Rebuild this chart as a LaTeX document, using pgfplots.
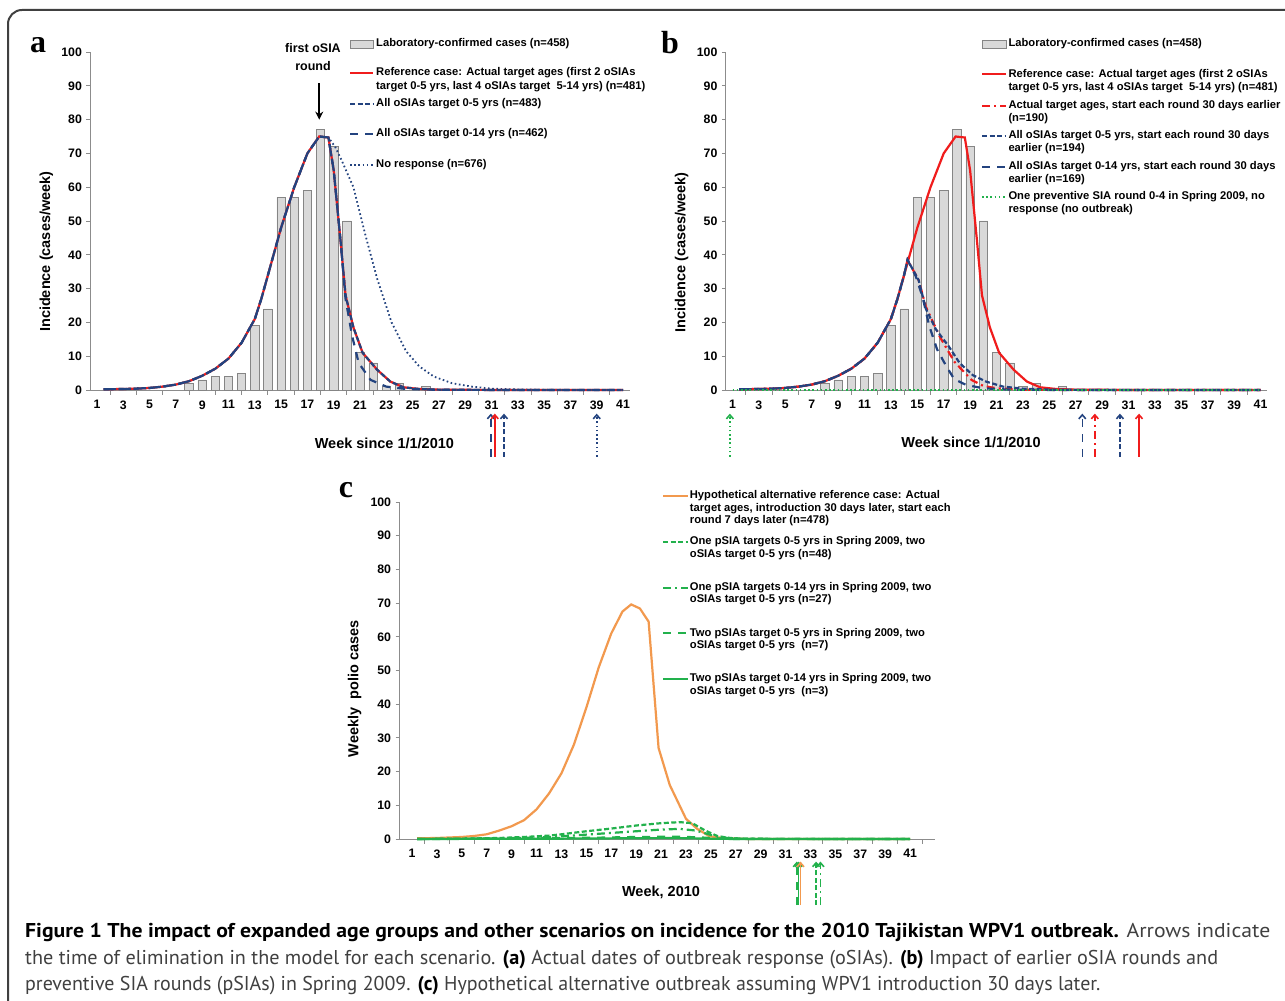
\documentclass[border=0pt]{standalone}
\usepackage{pgfplots}
\pgfplotsset{compat=1.18}
\usepackage{fontspec}
\setmainfont{Liberation Sans}
\newfontfamily\serifb{Liberation Serif}
\newfontfamily\capfont{PT Sans}
\usetikzlibrary{arrows.meta}
\definecolor{navy}{HTML}{23437F}
\definecolor{refred}{HTML}{F01C1C}
\definecolor{orng}{HTML}{F2994E}
\definecolor{grn}{HTML}{22B14C}
\definecolor{barfill}{HTML}{D9D9D9}
\definecolor{bardraw}{HTML}{858585}
\definecolor{axgray}{HTML}{8C8C8C}
\definecolor{capgray}{HTML}{404040}
\newcommand{\fs}[1]{\fontsize{#1}{#1}\selectfont}
\newcommand{\lgf}{\bfseries\fs{11.2}}

\tikzset{
  sref/.style={refred, line width=2.2pt},
  sshort/.style={navy, line width=2.2pt, dash pattern=on 5pt off 2.5pt},
  slong/.style={navy, line width=2.2pt, dash pattern=on 8pt off 7pt},
  sdot/.style={navy, line width=1.8pt, dash pattern=on 1.6pt off 2.6pt},
  sreddd/.style={refred, line width=2.2pt, dash pattern=on 8pt off 4pt on 2pt off 4pt},
  sgdot/.style={grn, line width=1.8pt, dash pattern=on 1.6pt off 2.6pt},
  sor/.style={orng, line width=2.2pt},
  sgshort/.style={grn, line width=2.2pt, dash pattern=on 5pt off 2.5pt},
  sgdd/.style={grn, line width=2.2pt, dash pattern=on 8pt off 4pt on 2pt off 4pt},
  sglong/.style={grn, line width=2.2pt, dash pattern=on 8pt off 7pt},
  sgsolid/.style={grn, line width=2.2pt},
  arr/.style={-{Straight Barb[length=4pt,width=7pt]}, line width=1.6pt},
}

\pgfplotsset{
  panel/.style={
    scale only axis, height=338pt,
    axis x line=bottom, axis y line=left,
    axis line style={-, draw=axgray, line width=0.9pt},
    ymin=0, ymax=100, ytick={0,10,...,100},
    xtick={1,3,...,41},
    minor xtick={2,4,...,40},
    major x tick style={draw=none},
    minor x tick style={draw=axgray, line width=0.9pt},
    y tick style={draw=axgray, line width=0.9pt},
    tick align=outside,
    major tick length=4pt, minor tick length=5pt,
    /pgf/number format/assume math mode=true,
    ticklabel style={font=\bfseries\fs{12.3}},
    xticklabel style={yshift=-3pt},
    yticklabel style={xshift=-1pt},
    clip=false,
  }
}

\pgfplotstableread{
w c
8 2
9 3
10 4
11 4
12 5
13 19
14 24
15 57
16 57
17 59
18 77
19 72
20 50
21 11
22 8
23 1
24 2
26 1
}\lab

\pgfplotstableread{
w v
1.5 0.2
3 0.3
4 0.4
5 0.6
6 1.0
7 1.6
8 2.6
9 4.2
10 6.3
11 9.3
12 14
13 21
13.5 27
14 34
15 48
16 60
17 70
17.9 75
18.6 74.7
19 65
19.5 45
19.9 28
20.5 18.5
21.2 11
22.3 6
23.3 2.5
24.3 0.8
25.5 0.3
27 0.1
30 0.03
35 0
41 0
}\refc

\pgfplotstableread{
w v
1.5 0.2
3 0.3
4 0.4
5 0.6
6 1.0
7 1.6
8 2.6
9 4.2
10 6.3
11 9.3
12 14
13 21
13.5 27
14 34
15 48
16 60
17 70
17.9 75
18.6 74.7
19 65
19.5 45
19.9 27
20.4 16
20.9 8
21.8 3
23 1
24.5 0.3
27 0.05
35 0
41 0
}\aoldfourteen

\pgfplotstableread{
w v
1.5 0.2
3 0.3
4 0.4
5 0.6
6 1.0
7 1.6
8 2.6
9 4.2
10 6.3
11 9.3
12 14
13 21
13.5 27
14 34
15 48
16 60
17 70
17.9 75
18.6 74.7
19.1 72
19.6 68
20.5 60
21.4 46
22.3 33
23.4 20
24.5 11.5
25.5 7
26.6 4
28 2
29.5 1
31 0.4
33 0.15
36 0.03
41 0
}\noresp

\pgfplotstableread{
w v
1.5 0.2
3 0.3
4 0.4
5 0.6
6 1.0
7 1.6
8 2.6
9 4.2
10 6.3
11 9.3
12 14
13 21
13.5 27
14 34
14.26 38.5
15.1 32.5
15.65 24
16.4 18
17.4 12.8
18.2 8
19.2 4.4
20.2 2.5
21.5 1
23 0.4
25 0.1
28 0
41 0
}\bshort

\pgfplotstableread{
w v
1.5 0.2
3 0.3
4 0.4
5 0.6
6 1.0
7 1.6
8 2.6
9 4.2
10 6.3
11 9.3
12 14
13 21
13.5 27
14 34
14.26 38.5
14.9 33.5
15.4 27.5
15.9 19
16.5 12
17.2 7
17.8 3.2
18.7 1.5
20 0.5
22 0.1
25 0
41 0
}\blong

\pgfplotstableread{
w v
1.5 0.2
3 0.3
4 0.4
5 0.6
6 1.0
7 1.6
8 2.6
9 4.2
10 6.3
11 9.3
12 14
13 21
13.5 27
14 34
14.26 38.5
15.1 32.5
15.65 24.6
16.7 15.8
17.8 8.4
19.1 3
20 1.2
21 0.5
23 0.1
26 0
41 0
}\breddd

\pgfplotstableread{
w v
1.4 0.2
3 0.3
5 0.6
6 0.9
7 1.4
8 2.5
9 3.8
10 5.6
11 8.8
12 13.5
13 19.5
14 28
15 39
16 51
17 61
17.9 67.5
18.6 69.6
19.3 68.4
20 64.5
20.8 27
21.7 16
23 6
23.9 3
24.9 0.8
26.2 0.2
28 0
41 0
}\orangec

\pgfplotstableread{
w v
1.4 0
5 0.1
8 0.3
10 0.6
12 1
13 1.4
15 2.3
17 3.1
19 4.0
21 4.7
22.5 5.0
23.5 4.7
24.5 2.6
25.5 0.9
26.5 0.3
28 0.05
41 0
}\gshort

\pgfplotstableread{
w v
1.4 0
8 0.2
11 0.4
13 0.8
15 1.3
17 1.8
19 2.3
21 2.8
22.5 3
23.8 2.5
25 1.2
26 0.4
27.5 0.05
41 0
}\gdd

\pgfplotstableread{
w v
1.4 0
10 0.1
13 0.3
16 0.4
19 0.6
22 0.7
24 0.5
25.5 0.2
27 0
41 0
}\glong

\pgfplotstableread{
w v
1.4 0
13 0.1
18 0.2
22 0.3
25 0.1
27 0
41 0
}\gsolid

\begin{document}
\begin{tikzpicture}[x=1pt,y=1pt]
\useasboundingbox (0,0) rectangle (1285,1001);
\fill[white] (0,0) rectangle (1285,1001);
\draw[line width=2pt, draw=black!75, rounded corners=14pt] (8,-40) -- (8,991) -- (1330,991);

% ---------------- panel a
\begin{axis}[panel, at={(90.4pt,611pt)}, anchor=south west, width=539.2pt, xmin=0.5, xmax=41.5]
\addplot[ybar, bar width=0.64, fill=barfill, draw=bardraw, line width=0.7pt] table[x=w,y=c] {\lab};
\addplot[sdot] table[x=w,y=v] {\noresp};
\addplot[sref] table[x=w,y=v] {\refc};
\addplot[slong] table[x=w,y=v] {\aoldfourteen};
\addplot[sshort] table[x=w,y=v] {\refc};
\draw[slong, arr] (axis cs:30.95,-19.7) -- (axis cs:30.95,-7);
\draw[sref, arr] (axis cs:31.25,-19.7) -- (axis cs:31.25,-7);
\draw[sshort, arr] (axis cs:31.95,-19.7) -- (axis cs:31.95,-7);
\draw[sdot, arr] (axis cs:39.0,-19.7) -- (axis cs:39.0,-7);
\draw[black, line width=1.6pt, -{Stealth[length=8pt,width=8pt]}] (axis cs:17.9,90.8) -- (axis cs:17.9,80);
\end{axis}

% ---------------- panel b
\begin{axis}[panel, at={(725.9pt,611pt)}, anchor=south west, width=541.2pt, xmin=0.5, xmax=41.5]
\addplot[ybar, bar width=0.64, fill=barfill, draw=bardraw, line width=0.7pt] table[x=w,y=c] {\lab};
\addplot[sref] table[x=w,y=v] {\refc};
\addplot[sreddd] table[x=w,y=v] {\breddd};
\addplot[sshort] table[x=w,y=v] {\bshort};
\addplot[slong] table[x=w,y=v] {\blong};
\addplot[sgdot] coordinates {(1,0) (41,0)};
\draw[sgdot, arr] (axis cs:0.8,-19.7) -- (axis cs:0.8,-7);
\draw[slong, arr] (axis cs:27.5,-19.7) -- (axis cs:27.5,-7);
\draw[sreddd, arr] (axis cs:28.45,-19.7) -- (axis cs:28.45,-7);
\draw[sshort, arr] (axis cs:30.35,-19.7) -- (axis cs:30.35,-7);
\draw[sref, arr] (axis cs:31.8,-19.7) -- (axis cs:31.8,-7);
\end{axis}

% ---------------- panel c
\begin{axis}[panel, at={(399.6pt,162pt)}, anchor=south west, width=535.4pt, height=337pt, xmin=0, xmax=43, minor xtick={2,4,...,42}]
\addplot[sor] table[x=w,y=v] {\orangec};
\addplot[sgshort] table[x=w,y=v] {\gshort};
\addplot[sgdd] table[x=w,y=v] {\gdd};
\addplot[sglong] table[x=w,y=v] {\glong};
\addplot[sgsolid] table[x=w,y=v] {\gsolid};
\draw[sglong, arr] (axis cs:31.9,-19.6) -- (axis cs:31.9,-6.7);
\draw[sgsolid, arr] (axis cs:32.05,-19.6) -- (axis cs:32.05,-6.7);
\draw[sor, arr] (axis cs:32.2,-19.6) -- (axis cs:32.2,-6.7);
\draw[sgshort, arr] (axis cs:33.45,-19.6) -- (axis cs:33.45,-6.7);
\draw[sgdd, arr] (axis cs:33.8,-19.6) -- (axis cs:33.8,-6.7);
\end{axis}

% panel letters
\node[anchor=base, inner sep=0, font=\serifb\bfseries\fs{32}] at (38,948) {a};
\node[anchor=base, inner sep=0, font=\serifb\bfseries\fs{32}] at (670,947) {b};
\node[anchor=base, inner sep=0, font=\serifb\bfseries\fs{32}] at (346,503) {c};

% axis titles
\node[rotate=90, font=\bfseries\fs{14.5}] at (46.5,749.3) {Incidence (cases/week)};
\node[rotate=90, font=\bfseries\fs{14.5}] at (681.7,748.5) {Incidence (cases/week)};
\node[rotate=90, font=\bfseries\fs{14.5}] at (354.5,312) {Weekly\ \ polio cases};
\node[font=\bfseries\fs{14.5}] at (384.4,558) {Week since 1/1/2010};
\node[font=\bfseries\fs{14.5}] at (971,558.5) {Week since 1/1/2010};
\node[font=\bfseries\fs{14.5}] at (661,108.5) {Week, 2010};

% first oSIA round
\node[align=center, font={\bfseries\fontsize{12.5}{18}\selectfont}, inner sep=0] at (313,944) {first oSIA\\round};

% legend a
\filldraw[fill=barfill, draw=bardraw, line width=0.7pt] (350,953) rectangle (373,961);
\node[anchor=west, inner sep=0, font=\lgf] at (376,957) {Laboratory-confirmed cases (n=458)};
\draw[sref] (350,928) -- (373,928);
\node[anchor=west, inner sep=0, font=\lgf] at (376,928) {Reference case: Actual target ages (first 2 oSIAs};
\node[anchor=west, inner sep=0, font=\lgf] at (376,914.3) {target 0-5 yrs, last 4 oSIAs target\ \ 5-14 yrs) (n=481)};
\draw[sshort] (350,897) -- (373,897);
\node[anchor=west, inner sep=0, font=\lgf] at (376,897) {All oSIAs target 0-5 yrs (n=483)};
\draw[slong] (350,867) -- (373,867);
\node[anchor=west, inner sep=0, font=\lgf] at (376,867) {All oSIAs target 0-14 yrs (n=462)};
\draw[sdot] (350,836) -- (373,836);
\node[anchor=west, inner sep=0, font=\lgf] at (376,836) {No response (n=676)};

% legend b
\filldraw[fill=barfill, draw=bardraw, line width=0.7pt] (982,953) rectangle (1006,961);
\node[anchor=west, inner sep=0, font=\lgf] at (1008.3,957) {Laboratory-confirmed cases (n=458)};
\draw[sref] (982,926.7) -- (1006,926.7);
\node[anchor=west, inner sep=0, font=\lgf] at (1008.3,926.7) {Reference case: Actual target ages (first 2 oSIAs};
\node[anchor=west, inner sep=0, font=\lgf] at (1008.3,913.7) {target 0-5 yrs, last 4 oSIAs target\ \ 5-14 yrs) (n=481)};
\draw[sreddd] (982,895) -- (1006,895);
\node[anchor=west, inner sep=0, font=\lgf] at (1008.3,895) {Actual target ages, start each round 30 days earlier};
\node[anchor=west, inner sep=0, font=\lgf] at (1008.3,882) {(n=190)};
\draw[sshort] (982,865) -- (1006,865);
\node[anchor=west, inner sep=0, font=\lgf] at (1008.3,865) {All oSIAs target 0-5 yrs, start each round 30 days};
\node[anchor=west, inner sep=0, font=\lgf] at (1008.3,852.7) {earlier (n=194)};
\draw[slong] (982,834.3) -- (1006,834.3);
\node[anchor=west, inner sep=0, font=\lgf] at (1008.3,834.3) {All oSIAs target 0-14 yrs, start each round 30 days};
\node[anchor=west, inner sep=0, font=\lgf] at (1008.3,821.7) {earlier (n=169)};
\draw[sgdot] (982,804.3) -- (1006,804.3);
\node[anchor=west, inner sep=0, font=\lgf] at (1008.3,804.3) {One preventive SIA round 0-4 in Spring 2009, no};
\node[anchor=west, inner sep=0, font=\lgf] at (1008.3,791) {response (no outbreak)};

% legend c
\draw[sor] (663,505.3) -- (687.7,505.3);
\node[anchor=west, inner sep=0, font=\lgf] at (689.7,505.3) {Hypothetical alternative reference case: Actual};
\node[anchor=west, inner sep=0, font=\lgf] at (689.7,492.7) {target ages, introduction 30 days later, start each};
\node[anchor=west, inner sep=0, font=\lgf] at (689.7,480) {round 7 days later (n=478)};
\draw[sgshort] (663,459.3) -- (687.7,459.3);
\node[anchor=west, inner sep=0, font=\lgf] at (689.7,459.3) {One pSIA targets 0-5 yrs in Spring 2009, two};
\node[anchor=west, inner sep=0, font=\lgf] at (689.7,446.7) {oSIAs target 0-5 yrs (n=48)};
\draw[sgdd] (663,413.3) -- (687.7,413.3);
\node[anchor=west, inner sep=0, font=\lgf] at (689.7,413.3) {One pSIA targets 0-14 yrs in Spring 2009, two};
\node[anchor=west, inner sep=0, font=\lgf] at (689.7,401) {oSIAs target 0-5 yrs (n=27)};
\draw[sglong] (663,367.7) -- (687.7,367.7);
\node[anchor=west, inner sep=0, font=\lgf] at (689.7,367.7) {Two pSIAs target 0-5 yrs in Spring 2009, two};
\node[anchor=west, inner sep=0, font=\lgf] at (689.7,355) {oSIAs target 0-5 yrs\ \ (n=7)};
\draw[sgsolid] (663,322) -- (687.7,322);
\node[anchor=west, inner sep=0, font=\lgf] at (689.7,322) {Two pSIAs target 0-14 yrs in Spring 2009, two};
\node[anchor=west, inner sep=0, font=\lgf] at (689.7,309.3) {oSIAs target 0-5 yrs\ \ (n=3)};

% caption
\node[anchor=base west, inner sep=0] at (25,63) {\resizebox{1245pt}{\height}{\capfont\fs{20}\textbf{Figure 1 The impact of expanded age groups and other scenarios on incidence for the 2010 Tajikistan WPV1 outbreak.} {\color{capgray}Arrows indicate}}};
\node[anchor=base west, inner sep=0] at (25,36) {\resizebox{1193pt}{\height}{\capfont\fs{20}\color{capgray}the time of elimination in the model for each scenario. \textcolor{black}{\textbf{(a)}} Actual dates of outbreak response (oSIAs). \textcolor{black}{\textbf{(b)}} Impact of earlier oSIA rounds and}};
\node[anchor=base west, inner sep=0] at (25,10) {\resizebox{1075pt}{\height}{\capfont\fs{20}\color{capgray}preventive SIA rounds (pSIAs) in Spring 2009. \textcolor{black}{\textbf{(c)}} Hypothetical alternative outbreak assuming WPV1 introduction 30 days later.}};
\end{tikzpicture}
\end{document}
